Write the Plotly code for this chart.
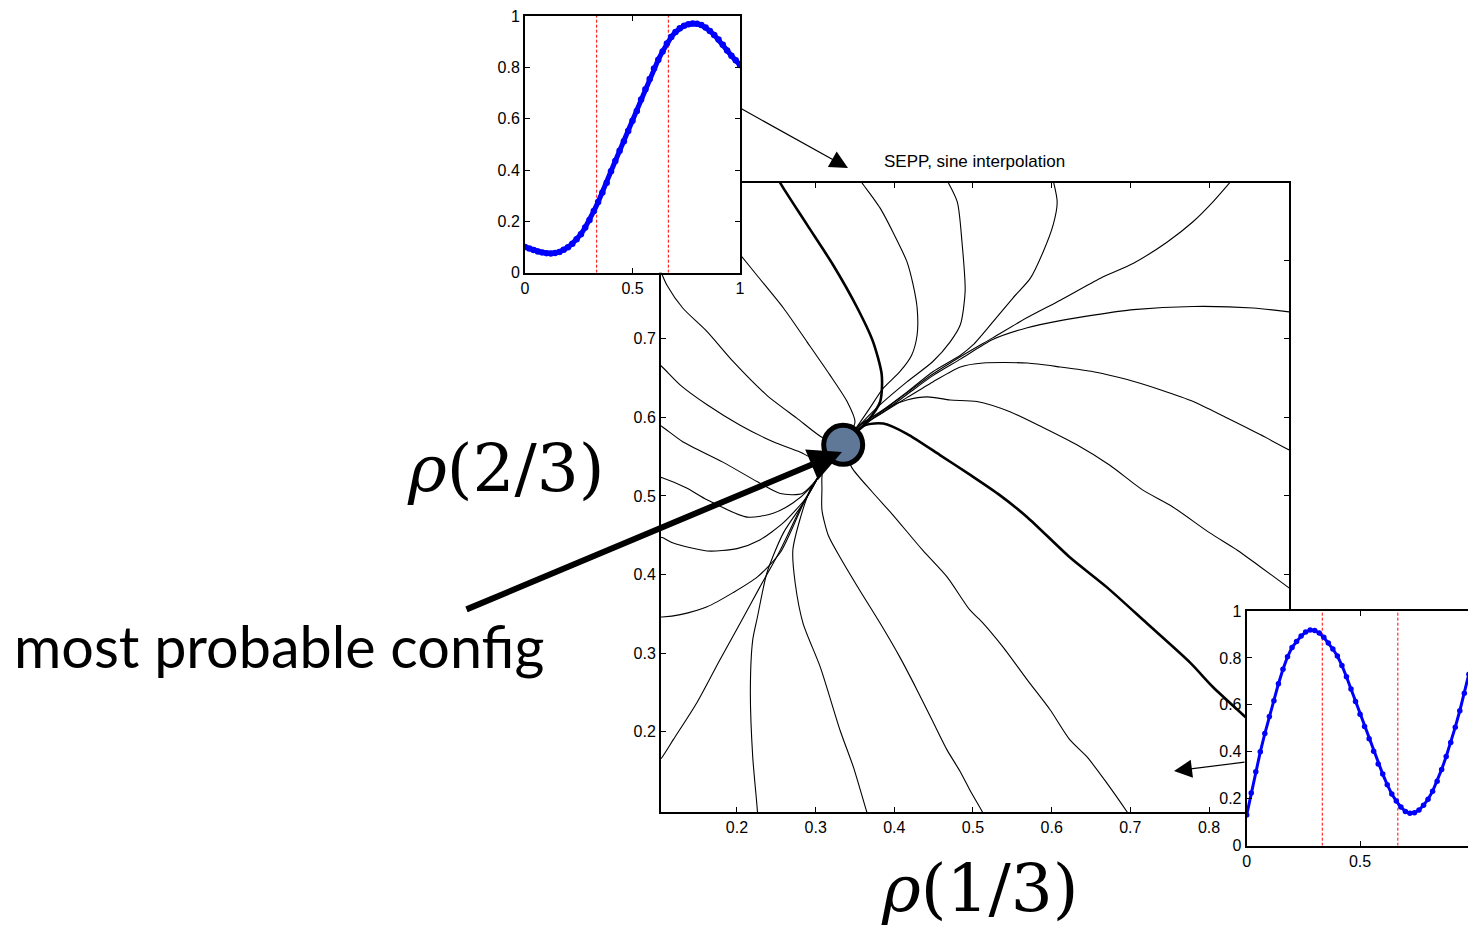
import plotly.graph_objects as go

W, H = 1468, 927

# ---------------- main panel: trajectories in (rho(1/3), rho(2/3)) plane ----------------
main_x_range = [0.1034, 0.9017]
main_y_range = [0.098, 0.898]
main_xticks = [0.2, 0.3, 0.4, 0.5, 0.6, 0.7, 0.8]
main_yticks = [0.2, 0.3, 0.4, 0.5, 0.6, 0.7, 0.8]

fixed_point_x = [0.335]
fixed_point_y = [0.565]

# thick trajectory coming from the top
thick_top_x = [0.252, 0.255, 0.289, 0.322, 0.353, 0.373, 0.384, 0.382, 0.365, 0.344, 0.335]
thick_top_y = [0.905, 0.898, 0.845, 0.794, 0.739, 0.696, 0.654, 0.620, 0.594, 0.574, 0.565]
# thick trajectory leaving towards the lower right
thick_out_x = [0.335, 0.363, 0.386, 0.416, 0.458, 0.496, 0.534, 0.569, 0.623, 0.670, 0.721, 0.776, 0.805, 0.846, 0.910]
thick_out_y = [0.565, 0.590, 0.592, 0.579, 0.552, 0.527, 0.501, 0.473, 0.422, 0.384, 0.338, 0.288, 0.257, 0.219, 0.160]

curve_b_x = [0.355, 0.359, 0.373, 0.382, 0.398, 0.416, 0.424, 0.429, 0.429, 0.422, 0.407, 0.386, 0.369, 0.354, 0.335]
curve_b_y = [0.905, 0.898, 0.879, 0.866, 0.836, 0.798, 0.768, 0.739, 0.705, 0.679, 0.658, 0.637, 0.612, 0.590, 0.565]
curve_c_x = [0.465, 0.480, 0.486, 0.490, 0.484, 0.471, 0.449, 0.416, 0.382, 0.356, 0.335]
curve_c_y = [0.905, 0.874, 0.823, 0.760, 0.718, 0.696, 0.671, 0.645, 0.616, 0.590, 0.565]
curve_d_x = [0.601, 0.607, 0.602, 0.589, 0.573, 0.551, 0.525, 0.500, 0.484, 0.449, 0.416, 0.382, 0.356, 0.335]
curve_d_y = [0.905, 0.874, 0.845, 0.810, 0.777, 0.752, 0.721, 0.692, 0.679, 0.658, 0.632, 0.607, 0.590, 0.565]
curve_e_x = [0.832, 0.805, 0.780, 0.747, 0.704, 0.662, 0.611, 0.569, 0.525, 0.484, 0.449, 0.416, 0.382, 0.356, 0.335]
curve_e_y = [0.905, 0.874, 0.849, 0.823, 0.796, 0.777, 0.749, 0.727, 0.701, 0.677, 0.655, 0.631, 0.606, 0.590, 0.565]
curve_f_x = [0.910, 0.856, 0.780, 0.704, 0.653, 0.611, 0.569, 0.525, 0.484, 0.449, 0.416, 0.382, 0.356, 0.335]
curve_f_y = [0.733, 0.739, 0.741, 0.737, 0.730, 0.723, 0.714, 0.699, 0.674, 0.653, 0.629, 0.604, 0.589, 0.565]
curve_g_x = [0.910, 0.865, 0.823, 0.780, 0.738, 0.696, 0.653, 0.611, 0.569, 0.513, 0.484, 0.449, 0.416, 0.382, 0.359, 0.335]
curve_g_y = [0.554, 0.578, 0.599, 0.620, 0.635, 0.648, 0.658, 0.664, 0.669, 0.669, 0.664, 0.645, 0.625, 0.604, 0.589, 0.565]
curve_h_x = [0.910, 0.865, 0.836, 0.801, 0.754, 0.715, 0.674, 0.632, 0.589, 0.547, 0.505, 0.471, 0.442, 0.416, 0.391, 0.367, 0.335]
curve_h_y = [0.377, 0.410, 0.431, 0.453, 0.486, 0.508, 0.539, 0.565, 0.587, 0.607, 0.620, 0.622, 0.626, 0.622, 0.612, 0.594, 0.565]
curve_i_x = [0.335, 0.346, 0.372, 0.398, 0.436, 0.467, 0.496, 0.513, 0.538, 0.569, 0.598, 0.623, 0.645, 0.670, 0.696, 0.700]
curve_i_y = [0.565, 0.536, 0.505, 0.476, 0.431, 0.397, 0.355, 0.338, 0.308, 0.266, 0.228, 0.190, 0.168, 0.135, 0.098, 0.092]
curve_j_x = [0.335, 0.309, 0.308, 0.308, 0.316, 0.331, 0.356, 0.382, 0.407, 0.429, 0.448, 0.467, 0.484, 0.496, 0.512, 0.515]
curve_j_y = [0.565, 0.531, 0.508, 0.482, 0.450, 0.422, 0.380, 0.338, 0.295, 0.253, 0.215, 0.177, 0.149, 0.126, 0.098, 0.092]
curve_k_x = [0.335, 0.309, 0.293, 0.280, 0.271, 0.274, 0.284, 0.306, 0.331, 0.348, 0.365, 0.367]
curve_k_y = [0.565, 0.533, 0.508, 0.470, 0.431, 0.389, 0.338, 0.282, 0.202, 0.155, 0.098, 0.092]
curve_l_x = [0.335, 0.309, 0.287, 0.259, 0.238, 0.226, 0.220, 0.217, 0.220, 0.226, 0.226]
curve_l_y = [0.565, 0.533, 0.495, 0.453, 0.402, 0.346, 0.317, 0.253, 0.168, 0.098, 0.090]
curve_m_x = [0.098, 0.105, 0.119, 0.149, 0.178, 0.204, 0.229, 0.255, 0.284, 0.309, 0.335]
curve_m_y = [0.160, 0.168, 0.190, 0.237, 0.291, 0.338, 0.384, 0.431, 0.491, 0.533, 0.565]
curve_n_x = [0.098, 0.105, 0.128, 0.162, 0.195, 0.226, 0.255, 0.284, 0.309, 0.335]
curve_n_y = [0.346, 0.346, 0.349, 0.359, 0.377, 0.397, 0.428, 0.489, 0.533, 0.565]
curve_o_x = [0.098, 0.105, 0.119, 0.162, 0.200, 0.229, 0.259, 0.289, 0.309, 0.335]
curve_o_y = [0.448, 0.447, 0.440, 0.430, 0.433, 0.444, 0.466, 0.499, 0.533, 0.565]
curve_u_x = [0.098, 0.105, 0.136, 0.162, 0.213, 0.246, 0.271, 0.293, 0.309, 0.335]
curve_u_y = [0.525, 0.523, 0.510, 0.495, 0.473, 0.478, 0.491, 0.510, 0.531, 0.565]
curve_t_x = [0.098, 0.105, 0.131, 0.182, 0.226, 0.255, 0.283, 0.305, 0.335]
curve_t_y = [0.592, 0.588, 0.569, 0.543, 0.518, 0.503, 0.503, 0.525, 0.565]
curve_s_x = [0.098, 0.105, 0.128, 0.162, 0.204, 0.246, 0.280, 0.309, 0.335]
curve_s_y = [0.670, 0.664, 0.641, 0.616, 0.590, 0.569, 0.556, 0.543, 0.565]
curve_q_x = [0.098, 0.105, 0.111, 0.131, 0.162, 0.195, 0.238, 0.276, 0.309, 0.335]
curve_q_y = [0.800, 0.781, 0.768, 0.739, 0.709, 0.671, 0.628, 0.599, 0.574, 0.565]
curve_r_x = [0.128, 0.153, 0.185, 0.204, 0.225, 0.259, 0.289, 0.318, 0.340, 0.350, 0.335]
curve_r_y = [0.889, 0.864, 0.830, 0.807, 0.781, 0.739, 0.696, 0.654, 0.620, 0.594, 0.565]

thin_curves = [
    (curve_b_x, curve_b_y), (curve_c_x, curve_c_y), (curve_d_x, curve_d_y),
    (curve_e_x, curve_e_y), (curve_f_x, curve_f_y), (curve_g_x, curve_g_y),
    (curve_h_x, curve_h_y), (curve_i_x, curve_i_y), (curve_j_x, curve_j_y),
    (curve_k_x, curve_k_y), (curve_l_x, curve_l_y), (curve_m_x, curve_m_y),
    (curve_n_x, curve_n_y), (curve_o_x, curve_o_y), (curve_u_x, curve_u_y),
    (curve_t_x, curve_t_y), (curve_s_x, curve_s_y), (curve_q_x, curve_q_y),
    (curve_r_x, curve_r_y),
]
thick_curves = [(thick_top_x, thick_top_y), (thick_out_x, thick_out_y)]

# ---------------- insets: density profiles rho(x) ----------------
profile_x = [0.00, 0.02, 0.04, 0.06, 0.08, 0.10, 0.12, 0.14, 0.16, 0.18,
             0.20, 0.22, 0.24, 0.26, 0.28, 0.30, 0.32, 0.34, 0.36, 0.38,
             0.40, 0.42, 0.44, 0.46, 0.48, 0.50, 0.52, 0.54, 0.56, 0.58,
             0.60, 0.62, 0.64, 0.66, 0.68, 0.70, 0.72, 0.74, 0.76, 0.78,
             0.80, 0.82, 0.84, 0.86, 0.88, 0.90, 0.92, 0.94, 0.96, 0.98, 1.00]
profile_top_y = [0.100, 0.094, 0.088, 0.083, 0.079, 0.076, 0.075, 0.077, 0.081, 0.089,
                 0.099, 0.113, 0.130, 0.150, 0.176, 0.205, 0.240, 0.275, 0.312, 0.350,
                 0.395, 0.435, 0.475, 0.512, 0.552, 0.592, 0.630, 0.675, 0.715, 0.755,
                 0.795, 0.830, 0.862, 0.893, 0.918, 0.938, 0.952, 0.962, 0.968, 0.971,
                 0.970, 0.965, 0.955, 0.942, 0.926, 0.908, 0.888, 0.866, 0.845, 0.828, 0.809]
profile_bottom_y = [0.131, 0.225, 0.315, 0.400, 0.478, 0.550, 0.618, 0.690, 0.752, 0.805,
                    0.845, 0.870, 0.893, 0.910, 0.919, 0.917, 0.906, 0.888, 0.864, 0.838,
                    0.808, 0.768, 0.720, 0.668, 0.614, 0.560, 0.508, 0.456, 0.402, 0.348,
                    0.305, 0.260, 0.220, 0.190, 0.165, 0.146, 0.138, 0.140, 0.152, 0.172,
                    0.198, 0.232, 0.275, 0.325, 0.380, 0.440, 0.505, 0.575, 0.650, 0.730, 0.810]
marker_positions = [1 / 3, 2 / 3]
inset_yticks = [0, 0.2, 0.4, 0.6, 0.8, 1]

BLUE = "#0000ff"
RED = "#ff0000"
FONT = "Liberation Sans, Arial, sans-serif"
SERIF = "DejaVu Serif, Liberation Serif, serif"

fig = go.Figure()

for cx, cy in thin_curves:
    fig.add_trace(go.Scatter(x=cx, y=cy, mode="lines", xaxis="x", yaxis="y",
                             line=dict(color="black", width=1.1, shape="spline", smoothing=0.7),
                             hoverinfo="skip"))
for cx, cy in thick_curves:
    fig.add_trace(go.Scatter(x=cx, y=cy, mode="lines", xaxis="x", yaxis="y",
                             line=dict(color="black", width=2.6, shape="spline", smoothing=0.7),
                             hoverinfo="skip"))
fig.add_trace(go.Scatter(x=fixed_point_x, y=fixed_point_y, mode="markers", xaxis="x", yaxis="y",
                         marker=dict(size=39, color="#5f7898", line=dict(color="black", width=5)),
                         hoverinfo="skip"))

# inset 1 (top-left)
for xp in marker_positions:
    fig.add_trace(go.Scatter(x=[xp, xp], y=[0, 1], mode="lines", xaxis="x2", yaxis="y2",
                             line=dict(color=RED, width=1, dash="3px,2px"), hoverinfo="skip"))
fig.add_trace(go.Scatter(x=profile_x, y=profile_top_y, mode="lines+markers", xaxis="x2", yaxis="y2",
                         line=dict(color=BLUE, width=5), marker=dict(size=6.5, color=BLUE),
                         hoverinfo="skip"))
# inset 2 (bottom-right)
for xp in marker_positions:
    fig.add_trace(go.Scatter(x=[xp, xp], y=[0, 1], mode="lines", xaxis="x3", yaxis="y3",
                             line=dict(color=RED, width=1, dash="3px,2px"), hoverinfo="skip"))
fig.add_trace(go.Scatter(x=profile_x, y=profile_bottom_y, mode="lines+markers", xaxis="x3", yaxis="y3",
                         line=dict(color=BLUE, width=3), marker=dict(size=5.5, color=BLUE),
                         hoverinfo="skip"))


def fmt(v):
    return "%g" % v


axis_common = dict(showline=True, linecolor="black", linewidth=2, ticks="inside",
                   ticklen=5, tickwidth=1, tickcolor="black", showgrid=False, zeroline=False,
                   automargin=False,
                   tickfont=dict(family=FONT, size=16, color="black"))

fig.update_layout(
    template="none",
    width=W, height=H, margin=dict(l=0, r=0, t=0, b=0, pad=0), autosize=False,
    paper_bgcolor="white", plot_bgcolor="white", showlegend=False,
    xaxis=dict(domain=[661 / W, 1289 / W], range=main_x_range, anchor="y", mirror="ticks",
               tickvals=main_xticks, ticktext=[fmt(v) for v in main_xticks], **axis_common),
    yaxis=dict(domain=[1 - 812 / H, 1 - 183 / H], range=main_y_range, anchor="x", mirror="ticks",
               tickvals=main_yticks, ticktext=[fmt(v) for v in main_yticks], **axis_common),
    xaxis2=dict(domain=[525 / W, 740 / W], range=[0, 1], anchor="y2", mirror="ticks",
                tickvals=[0, 0.5, 1], ticktext=["0", "0.5", "1"], **axis_common),
    yaxis2=dict(domain=[1 - 272.7 / H, 1 - 16 / H], range=[0, 1], anchor="x2", mirror="ticks",
                tickvals=inset_yticks, ticktext=[fmt(v) for v in inset_yticks], **axis_common),
    xaxis3=dict(domain=[1246.7 / W, 1.0], range=[0, (W - 1246.7) / 226.7], anchor="y3", mirror="ticks",
                tickvals=[0, 0.5], ticktext=["0", "0.5"], **axis_common),
    yaxis3=dict(domain=[1 - 845.7 / H, 1 - 611 / H], range=[0, 1], anchor="x3", mirror=False,
                tickvals=inset_yticks, ticktext=[fmt(v) for v in inset_yticks], **axis_common),
)

annotations = [
    dict(text="SEPP, sine interpolation", x=974 / W, y=1 - 161 / H, xref="paper", yref="paper",
         xanchor="center", yanchor="middle",
         showarrow=False, font=dict(family=FONT, size=17, color="black")),
    dict(text="<i>ρ</i>(2/3)", x=506 / W, y=1 - 468 / H, xref="paper", yref="paper",
         xanchor="center", yanchor="middle",
         showarrow=False, font=dict(family=SERIF, size=66, color="black")),
    dict(text="<i>ρ</i>(1/3)", x=980 / W, y=1 - 888 / H, xref="paper", yref="paper",
         xanchor="center", yanchor="middle",
         showarrow=False, font=dict(family=SERIF, size=66, color="black")),
    dict(text="most probable config", x=12 / W, y=1 - 645 / H, xref="paper", yref="paper",
         xanchor="left", yanchor="middle", showarrow=False,
         font=dict(family="Lato, Open Sans, sans-serif", size=57.5, color="black")),
    # big arrow to most probable configuration
    dict(text="", x=842 / W, y=1 - 452 / H, xref="paper", yref="paper", showarrow=True,
         ax=465 - 842, ay=610 - 452, arrowhead=2, arrowsize=1.1, arrowwidth=6, arrowcolor="black"),
    # small arrows from the insets
    dict(text="", x=848 / W, y=1 - 168 / H, xref="paper", yref="paper", showarrow=True,
         ax=740 - 848, ay=108 - 168, arrowhead=2, arrowsize=3, arrowwidth=1.2, arrowcolor="black"),
    dict(text="", x=1174 / W, y=1 - 771 / H, xref="paper", yref="paper", showarrow=True,
         ax=1246 - 1174, ay=762 - 771, arrowhead=2, arrowsize=3, arrowwidth=1.2, arrowcolor="black"),
]
fig.update_layout(annotations=annotations)

fig.write_html("out.html")
